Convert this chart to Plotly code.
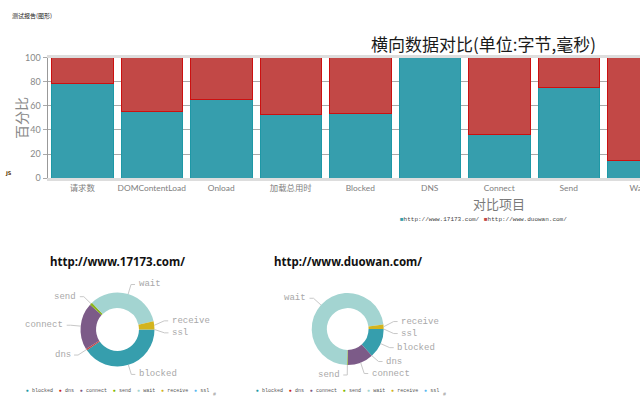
import math
import plotly.graph_objects as go

W, H = 640, 400

# ---------------- data ----------------
categories = ["请求数", "DOMContentLoad", "Onload", "加载总用时", "Blocked",
              "DNS", "Connect", "Send", "Wait"]
site_17173_pct = [78.5, 55.6, 65.3, 53.1, 53.7, 100.0, 36.6, 74.9, 14.9]
site_duowan_pct = [21.5, 44.4, 34.7, 46.9, 46.3, 0.0, 63.4, 25.1, 85.1]
y_ticks = [0, 20, 40, 60, 80, 100]

phase_labels = ["blocked", "dns", "connect", "send", "wait", "receive", "ssl"]
phase_17173 = [40.5, 0.7, 20.5, 1.2, 33.5, 3.6, 0.0]
phase_duowan = [13.3, 0.0, 11.7, 0.3, 72.7, 2.0, 0.0]

site_names = ["http://www.17173.com/", "http://www.duowan.com/"]
chart_title = "横向数据对比(单位:字节,毫秒)"
y_title = "百分比"
x_title = "对比项目"
report_title = "测试报告(图形)"

# ---------------- styles ----------------
TEAL = "#369EAD"
TEAL_EDGE = "#1E98A6"
RED = "#C24846"
RED_EDGE = "#CC1010"
phase_colors = ["#369EAD", "#C9403C", "#7C5B88", "#8AB41E",
                "#A3D4D1", "#D3B41E", "#5BB8F0"]
legend_dot_colors = ["#1E9AA8", "#CC2222", "#7C5B88", "#7FB800",
                     "#A3D4D1", "#D3B41E", "#5BB8F0"]

CJK = "'Noto Sans CJK SC'"
SANS = "Lato, " + CJK
MONO = "'Liberation Mono', " + CJK


def px(x):
    return x / W


def py(y):
    return 1 - y / H


fig = go.Figure()

# ---------------- stacked percentage bars ----------------
fig.add_trace(go.Bar(x=categories, y=site_17173_pct, name=site_names[0],
                     marker=dict(color=TEAL, line=dict(color=TEAL_EDGE, width=1)),
                     showlegend=False, hoverinfo="skip"))
fig.add_trace(go.Bar(x=categories, y=site_duowan_pct, name=site_names[1],
                     marker=dict(color=RED, line=dict(color=RED_EDGE, width=1)),
                     showlegend=False, hoverinfo="skip"))

plot_left = 47.5
band = 69.5
x_end = -0.5 + (W - plot_left) / band

# ---------------- donuts ----------------
donuts = [
    dict(cx=117.5, cy=329.5, R=37.0, values=phase_17173, title=site_names[0]),
    dict(cx=347.7, cy=329.0, R=36.0, values=phase_duowan, title=site_names[1]),
]
HOLE = 0.58

shapes = []
annotations = []

for d in donuts:
    cx, cy, R = d["cx"], d["cy"], d["R"]
    fig.add_trace(go.Pie(
        labels=phase_labels, values=d["values"], hole=HOLE, sort=False,
        direction="clockwise", rotation=90, textinfo="none",
        marker=dict(colors=phase_colors, line=dict(width=0)),
        domain=dict(x=[px(cx - R), px(cx + R)], y=[py(cy + R), py(cy - R)]),
        showlegend=False, hoverinfo="skip"))

    # ECharts-style outside labels with leader lines (computed from the data)
    total = sum(d["values"])
    acc = 0.0
    items = []
    for v, lab in zip(d["values"], phase_labels):
        mid = (acc + v / 2) / total * 2 * math.pi  # clockwise from 3 o'clock
        acc += v
        c, s = math.cos(mid), math.sin(mid)
        side = 1 if c >= 0 else -1
        items.append(dict(lab=lab, side=side,
                          ex=cx + R * c, ey=cy + R * s,
                          lx=cx + (R + 10) * c, ly=cy + (R + 10) * s))
    # de-overlap labels on each side
    for side in (1, -1):
        group = sorted([it for it in items if it["side"] == side], key=lambda t: t["ly"])
        for _ in range(20):
            moved = False
            for a, b in zip(group, group[1:]):
                gap = b["ly"] - a["ly"]
                if gap < 12:
                    push = (12 - gap) / 2
                    a["ly"] -= push
                    b["ly"] += push
                    moved = True
            if not moved:
                break
    for it in items:
        x2 = it["lx"] + it["side"] * 4
        shapes.append(dict(
            type="path", xref="paper", yref="paper",
            path="M {:.5f},{:.5f} L {:.5f},{:.5f} L {:.5f},{:.5f}".format(
                px(it["ex"]), py(it["ey"]), px(it["lx"]), py(it["ly"]), px(x2), py(it["ly"])),
            line=dict(color="#C8C8C8", width=1)))
        annotations.append(dict(
            text=it["lab"], x=px(it["lx"] + it["side"] * 5.5), y=py(it["ly"]),
            xref="paper", yref="paper", showarrow=False,
            xanchor="left" if it["side"] > 0 else "right", yanchor="middle",
            font=dict(family=MONO, size=9, color="#A8A8A8")))

    # donut title
    annotations.append(dict(
        text="<b>" + d["title"] + "</b>", x=px(cx), y=py(261.5),
        xref="paper", yref="paper", showarrow=False, xanchor="center", yanchor="middle",
        font=dict(family="'Noto Sans', " + CJK, size=11.5, color="#111111")))

    # donut legend
    parts = ["<span style='color:{}'>●</span> {}".format(col, lab)
             for col, lab in zip(legend_dot_colors, phase_labels)]
    annotations.append(dict(
        text="  ".join(parts), x=px(cx), y=py(391),
        xref="paper", yref="paper", showarrow=False, xanchor="center", yanchor="middle",
        font=dict(family=MONO, size=5, color="#555555")))
    annotations.append(dict(
        text="#", x=px(cx + 97), y=py(395), xref="paper", yref="paper",
        showarrow=False, xanchor="center", yanchor="middle",
        font=dict(family=MONO, size=5, color="#999999")))

# ---------------- text annotations for bar chart ----------------
annotations += [
    dict(text=chart_title, x=px(483), y=py(43), xref="paper", yref="paper",
         showarrow=False, xanchor="center", yanchor="middle",
         font=dict(family=CJK, size=17, color="#1A1A1A")),
    dict(text=y_title, x=px(21), y=py(118), xref="paper", yref="paper",
         showarrow=False, textangle=-90, xanchor="center", yanchor="middle",
         font=dict(family=CJK, size=14, color="#8A8A8A")),
    dict(text=x_title, x=px(499), y=py(203.5), xref="paper", yref="paper",
         showarrow=False, xanchor="center", yanchor="middle",
         font=dict(family=CJK, size=13, color="#7A7A7A")),
    dict(text=report_title, x=px(10), y=py(15.5), xref="paper", yref="paper",
         showarrow=False, xanchor="left", yanchor="middle",
         font=dict(family=CJK, size=6, color="#222222")),
    dict(text="<b>JS</b>", x=px(3), y=py(172.5), xref="paper", yref="paper",
         showarrow=False, xanchor="left", yanchor="middle",
         font=dict(family="'DejaVu Sans'", size=5, color="#553300")),
    dict(text="<span style='color:{}'>■</span>{}".format(TEAL, site_names[0]),
         x=px(397.5), y=py(219.3), xref="paper", yref="paper",
         showarrow=False, xanchor="left", yanchor="middle",
         font=dict(family=MONO, size=6, color="#444444")),
    dict(text="<span style='color:{}'>■</span>{}".format(RED, site_names[1]),
         x=px(482), y=py(219.3), xref="paper", yref="paper",
         showarrow=False, xanchor="left", yanchor="middle",
         font=dict(family=MONO, size=6, color="#444444")),
]

fig.update_layout(
    width=W, height=H,
    margin=dict(l=0, r=0, t=0, b=0, autoexpand=False),
    paper_bgcolor="white", plot_bgcolor="white",
    barmode="stack", bargap=0.115,
    showlegend=False,
    xaxis=dict(domain=[px(plot_left), 1], range=[-0.5, x_end], automargin=False,
               type="category", showgrid=False, zeroline=False,
               showline=True, linecolor="#DDDDDD", linewidth=3, mirror=True,
               ticks="", ticklabelstandoff=0,
               tickfont=dict(family=SANS, size=8.4, color="#808080")),
    yaxis=dict(domain=[py(178.3), py(57.5)], range=[0, 100], automargin=False,
               tickvals=y_ticks, showgrid=True, gridcolor="#AAAAAA", gridwidth=1,
               zeroline=False, showline=True, linecolor="#999999", linewidth=1,
               ticks="outside", ticklen=4, tickcolor="#AAAAAA",
               tickfont=dict(family=SANS, size=9, color="#888888")),
    shapes=shapes,
    annotations=annotations,
)

fig.write_html("out.html", config=dict(displayModeBar=False),
               post_script="document.body.style.margin='0px';document.body.style.overflow='hidden';")
